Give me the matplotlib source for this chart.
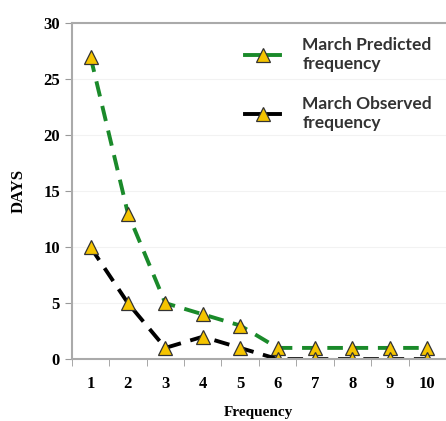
import matplotlib.pyplot as plt

freq = [1, 2, 3, 4, 5, 6, 7, 8, 9, 10]
predicted = [27, 13, 5, 4, 3, 1, 1, 1, 1, 1]
observed = [10, 5, 1, 2, 1, 0, 0, 0, 0, 0]

fig = plt.figure(figsize=(4.46, 4.21), dpi=100)
ax = fig.add_axes([0.161, 0.147, 0.839, 0.798])

style = dict(linestyle=(0, (4, 2.5)), linewidth=2.8, marker="^", markersize=10.5,
             markerfacecolor="#f5c400", markeredgecolor="#333333", markeredgewidth=0.9)
ax.plot(freq, predicted, color="#1a8a2a", label="March Predicted\nfrequency", **style)
ax.plot(freq, observed, color="black", label="March Observed\nfrequency", **style)

ax.set_xlim(0.5, 10.5)
ax.set_ylim(0, 30)
ax.set_yticks(range(0, 31, 5))
ax.set_xticks(freq)
ax.set_xticks([i + 0.5 for i in range(0, 11)], minor=True)
ax.tick_params(axis="x", which="major", length=0, pad=12)
ax.tick_params(axis="x", which="minor", length=5, color="#999999")
ax.tick_params(axis="y", length=5, color="#999999", direction="out")
for lab in ax.get_xticklabels() + ax.get_yticklabels():
    lab.set_fontfamily("Liberation Serif")
    lab.set_fontweight("bold")
    lab.set_fontsize(12)

for s in ["left", "bottom", "top"]:
    ax.spines[s].set_color("#aaaaaa")
    ax.spines[s].set_linewidth(1.5)
ax.spines["right"].set_visible(False)
ax.grid(axis="y", color="#f2f2f2", linewidth=0.8)

ax.set_xlabel("Frequency", fontfamily="Liberation Serif", fontweight="bold", fontsize=11, labelpad=10)
ax.set_ylabel("DAYS", fontfamily="Liberation Serif", fontweight="bold", fontsize=12, labelpad=12)

leg = ax.legend(loc="upper right", frameon=False, handlelength=2.0,
                labelspacing=1.4, borderaxespad=0.4, handletextpad=1.3,
                prop={"family": "Lato", "weight": "bold", "size": 12.5})
for t in leg.get_texts():
    t.set_color("#333333")
for h in leg.get_lines():
    h.set_linestyle("-")

fig.savefig("out.png", dpi=100)
